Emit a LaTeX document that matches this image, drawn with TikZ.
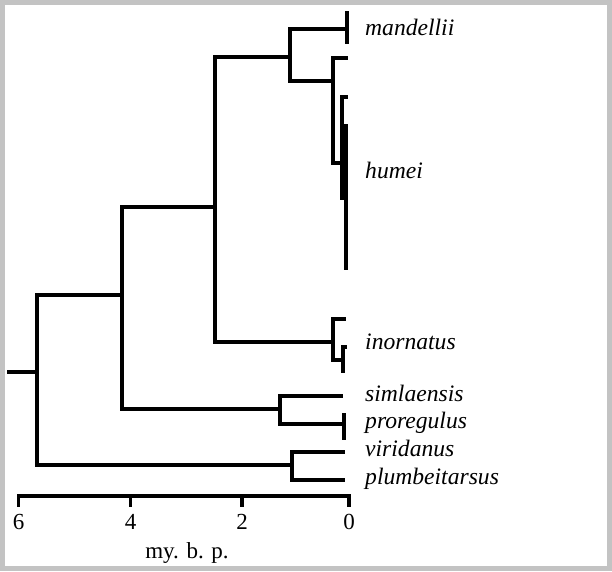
\documentclass[tikz,border=0pt]{standalone}
\usepackage{fontspec}
\setmainfont{Liberation Serif}
\definecolor{framegrey}{RGB}{195,195,195}

\begin{document}
\begin{tikzpicture}[
    x=1pt, y=-1pt,
    branch/.style={line width=3.2pt},
    taxon/.style={anchor=base west, inner sep=0pt, font=\fontsize{23.6}{27}\selectfont\itshape},
    axislabel/.style={anchor=base, inner sep=0pt, font=\fontsize{23}{27}\selectfont}
]
    % Frame
    \fill [framegrey] (0,0) rectangle (612,571);
    \fill [white] (5,5) rectangle (607,566);

    % Internal nodes
    \coordinate (stem) at (7,372);
    \coordinate (root) at (37,372);
    \coordinate (n1) at (122,295);
    \coordinate (n2) at (215,207);
    \coordinate (n3) at (290,57);
    \coordinate (n4) at (333,81);
    \coordinate (n5) at (342,163);
    \coordinate (n6) at (333,342);
    \coordinate (n7) at (343,360);
    \coordinate (n8) at (280,409);
    \coordinate (n9) at (292,465);

    % Tips
    \coordinate (mand) at (347,29);
    \coordinate (hum1) at (348,58);
    \coordinate (hum2) at (348,97);
    \coordinate (hum3) at (346,124);
    \coordinate (hum4) at (346,270);
    \coordinate (ino1) at (346,319);
    \coordinate (ino2) at (347,347);
    \coordinate (sim) at (343,396);
    \coordinate (pro) at (344,424);
    \coordinate (vir) at (345,452);
    \coordinate (plu) at (345,480);

    % Branches
    \draw [branch] (stem) -- (root);
    \draw [branch] (root) |- (n1);
    \draw [branch] (root) |- (n9);
    \draw [branch] (n1) |- (n2);
    \draw [branch] (n1) |- (n8);
    \draw [branch] (n2) |- (n3);
    \draw [branch] (n2) |- (n6);
    \draw [branch] (n3) |- (mand);
    \draw [branch] (n3) |- (n4);
    \draw [branch] (n4) |- (hum1);
    \draw [branch] (n4) |- (n5);
    \draw [branch] (n5) |- (hum2);
    \draw [branch] (n5) -- ++(0,37);
    \draw [branch] (hum3) -- (hum4);
    \fill (340.5,124) rectangle (347.5,200);
    \draw [branch] (n6) |- (ino1);
    \draw [branch] (n6) |- (n7);
    \draw [branch] (n7) |- (ino2);
    \draw [branch] (n7) -- ++(0,13);
    \draw [branch] (n8) |- (sim);
    \draw [branch] (n8) |- (pro);
    \draw [branch] (n9) |- (vir);
    \draw [branch] (n9) |- (plu);

    % Tip bars
    \draw [branch] (mand) ++(0,-18) -- ++(0,33);
    \draw [branch] (pro) ++(0,-11) -- ++(0,27);

    % Taxon labels
    \node [taxon] (l-mand) at (365,35) {mandellii};
    \node [taxon] (l-hum) at (365,178) {humei};
    \node [taxon] (l-ino) at (365,349) {inornatus};
    \node [taxon] (l-sim) at (365,401) {simlaensis};
    \node [taxon] (l-pro) at (365,428) {proregulus};
    \node [taxon] (l-vir) at (365,456) {viridanus};
    \node [taxon] (l-plu) at (365,484) {plumbeitarsus};

    % Time axis
    \draw [branch] (17,496) -- (350.5,496);
    \foreach \x/\t in {18.5/6, 130.5/4, 242/2, 349/0} {
        \draw [branch] (\x,496) -- (\x,507);
        \node [axislabel] (lab\t) at (\x,529) {\t};
    }
    \node [axislabel] (axis) at (187,558) {my. b. p.};
\end{tikzpicture}
\end{document}
